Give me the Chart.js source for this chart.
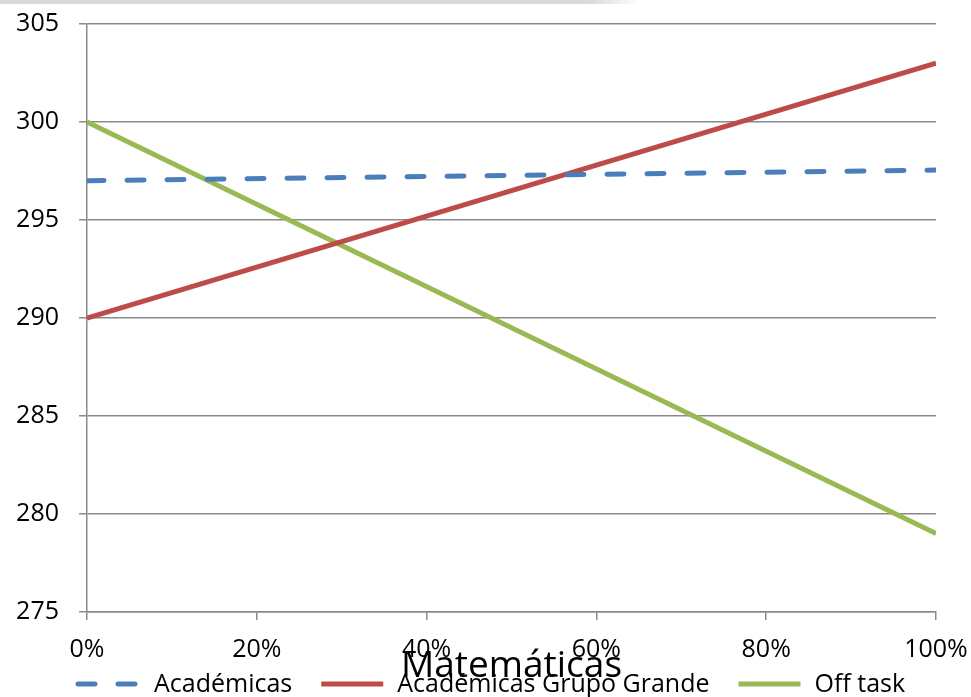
<!DOCTYPE html>
<html>
<head>
<meta charset="utf-8">
<script src="https://cdn.jsdelivr.net/npm/chart.js@4/dist/chart.umd.min.js"></script>
<style>
  html, body { margin: 0; padding: 0; background: #fff; }
  #wrap { position: relative; width: 971px; height: 697px; }
  #topbar { position: absolute; left: 0; top: 0; width: 640px; height: 4px;
            background: linear-gradient(to right, #d9d9d9 92%, rgba(217,217,217,0)); }
  canvas { display: block; }
</style>
</head>
<body>
<div id="wrap">
  <canvas id="chart" width="971" height="697"></canvas>
  <div id="topbar"></div>
</div>
<script>
// Share of time (%) on the x axis, score on the y axis
const xValues = [0, 100];
const academicas = [297.0, 297.55];
const academicasGrupoGrande = [290.0, 303.0];
const offTask = [300.0, 279.0];

const seriesNames = ['Académicas', 'Académicas Grupo Grande', 'Off task'];
const chartTitle = 'Matemáticas';

const yMin = 275, yMax = 305, yStep = 5;
const xMin = 0, xMax = 100, xStep = 20;

const FONT = '"Open Sans", "Liberation Sans", sans-serif';
const GRID = '#8a8a8a';

const toPoints = vals => vals.map((v, i) => ({ x: xValues[i], y: v }));

// Title and legend sit below the axis, overlapping each other
const bottomTextPlugin = {
  id: 'bottomText',
  afterDraw(chart) {
    const ctx = chart.ctx;
    const area = chart.chartArea;
    ctx.save();
    ctx.fillStyle = '#000';
    ctx.textBaseline = 'alphabetic';

    // title
    ctx.font = '37px ' + FONT;
    ctx.textAlign = 'center';
    ctx.fillText(chartTitle, (area.left + area.right) / 2, 677);

    // legend
    ctx.font = '25px ' + FONT;
    ctx.textAlign = 'left';
    const lineLen = 62, textGap = 14, itemGap = 29, lineY = 684, baseY = 692;
    let x = 78;
    chart.data.datasets.forEach(ds => {
      ctx.save();
      ctx.strokeStyle = ds.borderColor;
      ctx.lineWidth = ds.borderWidth;
      ctx.lineCap = ds.borderCapStyle || 'butt';
      ctx.setLineDash(ds.borderDash || []);
      ctx.beginPath();
      ctx.moveTo(x, lineY);
      ctx.lineTo(x + lineLen, lineY);
      ctx.stroke();
      ctx.restore();
      const tx = x + lineLen + textGap;
      ctx.fillText(ds.label, tx, baseY);
      x = tx + ctx.measureText(ds.label).width + itemGap;
    });
    ctx.restore();
  }
};

new Chart(document.getElementById('chart'), {
  type: 'line',
  data: {
    datasets: [
      {
        label: seriesNames[0],
        data: toPoints(academicas),
        borderColor: '#4a7ebb',
        borderWidth: 5,
        borderDash: [17, 23],
        borderCapStyle: 'round',
        pointRadius: 0,
        tension: 0
      },
      {
        label: seriesNames[1],
        data: toPoints(academicasGrupoGrande),
        borderColor: '#be4b48',
        borderWidth: 5,
        borderCapStyle: 'butt',
        pointRadius: 0,
        tension: 0
      },
      {
        label: seriesNames[2],
        data: toPoints(offTask),
        borderColor: '#98b954',
        borderWidth: 5,
        borderCapStyle: 'butt',
        pointRadius: 0,
        tension: 0
      }
    ]
  },
  options: {
    responsive: false,
    animation: false,
    layout: { padding: { left: 0, right: 35, top: 24, bottom: 0 } },
    plugins: {
      legend: { display: false },
      title: { display: false },
      tooltip: { enabled: false }
    },
    scales: {
      x: {
        type: 'linear',
        min: xMin,
        max: xMax,
        afterFit: s => { s.height = 85; s.paddingLeft = 0; s.paddingRight = 0; },
        border: { color: GRID, width: 1.5 },
        grid: { display: true, drawOnChartArea: false, drawTicks: true, tickLength: 8, color: GRID, lineWidth: 1.5 },
        ticks: {
          stepSize: xStep,
          padding: 15,
          color: '#000',
          font: { family: FONT, size: 25 },
          maxRotation: 0,
          callback: v => v + '%'
        }
      },
      y: {
        min: yMin,
        max: yMax,
        afterFit: s => { s.width = 87; s.paddingTop = 0; s.paddingBottom = 0; },
        border: { color: GRID, width: 1.5 },
        grid: { color: GRID, lineWidth: 1.5, tickLength: 8 },
        ticks: {
          stepSize: yStep,
          padding: 20,
          color: '#000',
          font: { family: FONT, size: 25 }
        }
      }
    }
  },
  plugins: [bottomTextPlugin]
});
</script>
</body>
</html>
